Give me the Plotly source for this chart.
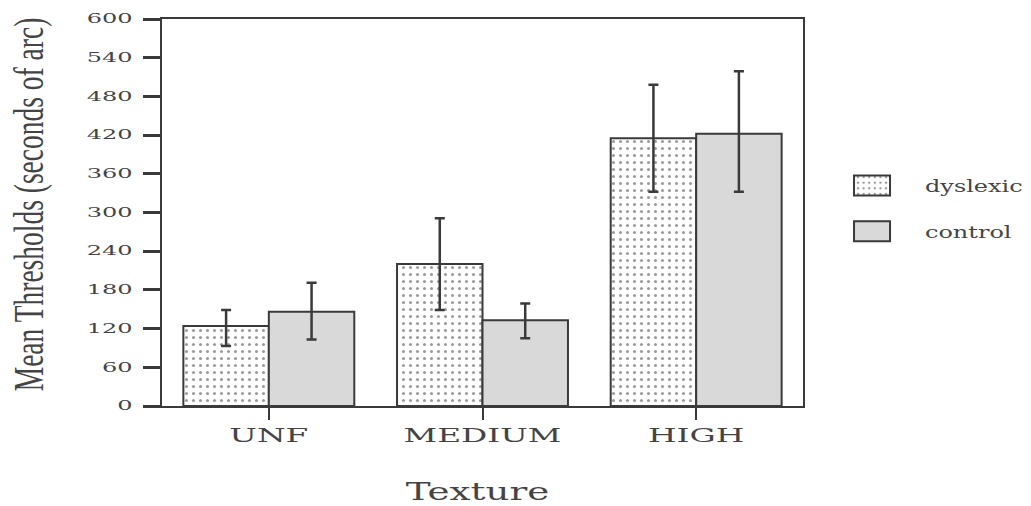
import plotly.graph_objects as go

categories = ["UNF", "MEDIUM", "HIGH"]
dyslexic = [124, 220, 415]
dyslexic_err_plus = [25, 71, 83]
dyslexic_err_minus = [31, 71, 83]
control = [146, 133, 422]
control_err_plus = [45, 26, 97]
control_err_minus = [43, 28, 90]
y_ticks = [0, 60, 120, 180, 240, 300, 360, 420, 480, 540, 600]

ink = "#3a3a3a"
text_col = "#444444"

fig = go.Figure()
fig.add_trace(go.Bar(
    name="dyslexic", x=categories, y=dyslexic, legendgroup="a",
    marker=dict(color="white", line=dict(color=ink, width=2),
                pattern=dict(shape=".", fgcolor="#333333", bgcolor="white",
                             size=7, solidity=0.15, fillmode="overlay")),
    error_y=dict(type="data", symmetric=False, array=dyslexic_err_plus,
                 arrayminus=dyslexic_err_minus, color=ink, thickness=2.5, width=5),
))
fig.add_trace(go.Bar(
    name="control", x=categories, y=control, legendgroup="b",
    marker=dict(color="#d9d9d9", line=dict(color=ink, width=2)),
    error_y=dict(type="data", symmetric=False, array=control_err_plus,
                 arrayminus=control_err_minus, color=ink, thickness=2.5, width=5),
))

fig.update_layout(
    width=1031, height=506,
    margin=dict(l=162, r=228, t=19, b=100, autoexpand=False),
    paper_bgcolor="white", plot_bgcolor="white",
    barmode="group", bargap=0.2, bargroupgap=0,
    showlegend=True,
    legend=dict(x=1.025, xanchor="left", y=0.51, yanchor="middle",
                itemwidth=96,
                font=dict(family="DejaVu Serif", size=16, color=text_col),
                tracegroupgap=22, bgcolor="rgba(0,0,0,0)"),
    font=dict(family="DejaVu Serif", color=text_col),
)
fig.update_xaxes(
    automargin=False,
    showline=True, linecolor=ink, linewidth=2, mirror=True,
    ticks="outside", ticklen=12, tickwidth=2, tickcolor=ink,
    tickfont=dict(family="DejaVu Serif", size=18, color=text_col),
    showgrid=False, zeroline=False,
    title=dict(text="Texture", font=dict(family="DejaVu Serif", size=24, color=text_col), standoff=42),
)
fig.update_yaxes(
    automargin=False,
    range=[0, 600], tickvals=y_ticks,
    showline=True, linecolor=ink, linewidth=2, mirror=True,
    ticks="outside", ticklen=17, tickwidth=2.5, tickcolor=ink,
    ticklabelstandoff=8,
    tickfont=dict(family="DejaVu Serif", size=12, color=text_col),
    showgrid=False, zeroline=False,
    title=dict(text="Mean Thresholds (seconds of arc)",
               font=dict(family="Liberation Serif", size=27.5, color=text_col), standoff=60),
)

# The scanned reference is stretched horizontally; stretch the rendered text the same way.
post_js = r"""
var gd = document.getElementById('{plot_id}');
function stretch(sel, sx, sy, dx, dy) {
  gd.querySelectorAll(sel).forEach(function(t) {
    var x = parseFloat(t.getAttribute('x')) || 0;
    var y = parseFloat(t.getAttribute('y')) || 0;
    var tr = t.getAttribute('transform') || '';
    t.setAttribute('transform', tr + ' translate(' + (x + (dx || 0)) + ',' + (y + (dy || 0)) + ') scale(' + sx + ',' + sy + ') translate(' + (-x) + ',' + (-y) + ')');
  });
}
stretch('.xtick text', 1.82, 1);
stretch('.ytick text', 2.0, 1);
stretch('text.xtitle', 1.55, 1, -5, 0);
stretch('text.ytitle', 1, 1.5, 8, 2);
stretch('text.legendtext', 1.5, 1);
gd.querySelectorAll('.legend [clip-path]').forEach(function(e) { e.removeAttribute('clip-path'); });
gd.querySelectorAll('.legend .legendpoints path').forEach(function(p) {
  p.setAttribute('d', 'M18,10H-18V-10H18Z');
});
"""

fig.write_html("out.html", post_script=post_js)
